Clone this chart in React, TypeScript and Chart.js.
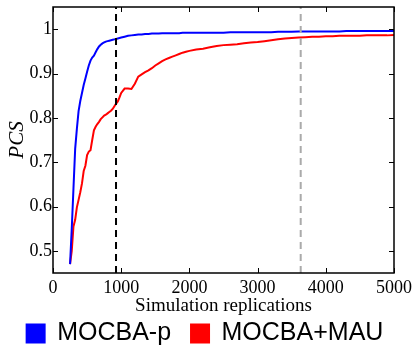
import { useEffect, useRef } from "react";
import { Chart, registerables } from "chart.js";

Chart.register(...registerables);

const SERIES_LABELS = ["MOCBA-p", "MOCBA+MAU"];
const SERIES_COLORS = ["#0000ff", "#ff0000"];

const REPS = [
  250, 275, 300, 325, 350, 375, 400, 425, 450, 475, 500, 525, 550, 575, 600, 625, 650, 675, 700, 725,
  750, 775, 800, 825, 850, 875, 900, 925, 950, 975, 1000,
  1050, 1100, 1150, 1200, 1250, 1300, 1350, 1400, 1450, 1500, 1550, 1600, 1650, 1700, 1750, 1800, 1850, 1900, 1950, 2000,
  2100, 2200, 2300, 2400, 2500, 2600, 2700, 2800, 2900, 3000, 3100, 3200, 3300, 3400, 3500, 3600, 3700, 3800, 3900, 4000,
  4100, 4200, 4300, 4400, 4500, 4600, 4700, 4800, 4900, 5000,
];

const MOCBA_P = [
  0.47, 0.55, 0.64, 0.73, 0.775, 0.815, 0.838, 0.856, 0.874, 0.889, 0.904, 0.918, 0.929, 0.936, 0.94, 0.948, 0.955, 0.961, 0.965, 0.968,
  0.97, 0.972, 0.973, 0.974, 0.975, 0.976, 0.977, 0.978, 0.979, 0.98, 0.981,
  0.983, 0.985, 0.986, 0.987, 0.988, 0.988, 0.989, 0.989, 0.99, 0.99, 0.99, 0.991, 0.991, 0.991, 0.991, 0.991, 0.991, 0.992, 0.992, 0.992,
  0.992, 0.992, 0.992, 0.992, 0.992, 0.993, 0.993, 0.993, 0.993, 0.993, 0.993, 0.993, 0.994, 0.994, 0.994, 0.995, 0.995, 0.995, 0.995, 0.995,
  0.995, 0.995, 0.996, 0.996, 0.996, 0.996, 0.996, 0.996, 0.996, 0.996,
];

const MOCBA_MAU = [
  0.47, 0.5, 0.555, 0.57, 0.598, 0.615, 0.632, 0.652, 0.68, 0.692, 0.716, 0.724, 0.727, 0.75, 0.772, 0.78, 0.786, 0.791, 0.797, 0.801,
  0.805, 0.807, 0.81, 0.813, 0.816, 0.82, 0.826, 0.832, 0.837, 0.846, 0.856,
  0.866, 0.866, 0.865, 0.877, 0.893, 0.898, 0.903, 0.907, 0.912, 0.918, 0.923, 0.928, 0.932, 0.935, 0.938, 0.941, 0.944, 0.947, 0.949, 0.951,
  0.954, 0.956, 0.959, 0.962, 0.964, 0.965, 0.966, 0.968, 0.97, 0.971, 0.973, 0.975, 0.977, 0.979, 0.98, 0.981, 0.982, 0.983, 0.983, 0.984,
  0.984, 0.985, 0.985, 0.985, 0.985, 0.986, 0.986, 0.986, 0.986, 0.987,
];

const X_TICKS = [0, 1000, 2000, 3000, 4000, 5000];
const Y_TICKS = [0.5, 0.6, 0.7, 0.8, 0.9, 1];
const X_RANGE = [0, 5000];
const Y_RANGE = [0.45, 1.05];
const MARK_BLACK = 924;
const MARK_GRAY = 3632;

const X_TITLE = "Simulation replications";
const Y_TITLE = "PCS";

const framePlugin = {
  id: "frame",
  afterDatasetsDraw(chart: any) {
    const { ctx, chartArea } = chart;
    const { left, right, top, bottom } = chartArea;
    const xs = chart.scales.x;
    const ys = chart.scales.y;
    ctx.save();
    ctx.strokeStyle = "#000";
    ctx.lineWidth = 1.5;
    ctx.strokeRect(left, top, right - left, bottom - top);
    ctx.lineWidth = 1;
    const L = 5;
    ctx.beginPath();
    X_TICKS.forEach((v) => {
      const px = Math.round(xs.getPixelForValue(v)) + 0.5;
      ctx.moveTo(px, bottom);
      ctx.lineTo(px, bottom - L);
      ctx.moveTo(px, top);
      ctx.lineTo(px, top + L);
    });
    Y_TICKS.forEach((v) => {
      const py = Math.round(ys.getPixelForValue(v)) + 0.5;
      ctx.moveTo(left, py);
      ctx.lineTo(left + L, py);
      ctx.moveTo(right, py);
      ctx.lineTo(right - L, py);
    });
    ctx.stroke();
    ctx.restore();
  },
};

export default function App() {
  const ref = useRef<HTMLCanvasElement>(null);

  useEffect(() => {
    if (!ref.current) return;
    const toPts = (vals: number[]) => REPS.map((r, i) => ({ x: r, y: vals[i] }));
    const chart = new Chart(ref.current, {
      type: "line",
      data: {
        datasets: [
          {
            label: SERIES_LABELS[0],
            data: toPts(MOCBA_P),
            borderColor: SERIES_COLORS[0],
            backgroundColor: SERIES_COLORS[0],
            borderWidth: 2,
            pointRadius: 0,
            tension: 0,
            order: 1,
          },
          {
            label: SERIES_LABELS[1],
            data: toPts(MOCBA_MAU),
            borderColor: SERIES_COLORS[1],
            backgroundColor: SERIES_COLORS[1],
            borderWidth: 2,
            pointRadius: 0,
            tension: 0,
            order: 1,
          },
          {
            label: "mark1",
            data: [
              { x: MARK_BLACK, y: Y_RANGE[0] },
              { x: MARK_BLACK, y: Y_RANGE[1] },
            ],
            borderColor: "#000",
            borderWidth: 2,
            borderDash: [7, 5],
            pointRadius: 0,
            order: 0,
          },
          {
            label: "mark2",
            data: [
              { x: MARK_GRAY, y: Y_RANGE[0] },
              { x: MARK_GRAY, y: Y_RANGE[1] },
            ],
            borderColor: "#aaaaaa",
            borderWidth: 2,
            borderDash: [7, 5],
            pointRadius: 0,
            order: 0,
          },
        ],
      },
      options: {
        animation: false,
        responsive: false,
        layout: { padding: { top: 7, left: 0, right: 4, bottom: -8 } },
        plugins: {
          tooltip: { enabled: false },
          legend: {
            position: "bottom",
            labels: {
              filter: (item: any) => item.datasetIndex < 2,
              boxWidth: 18,
              boxHeight: 18,
              padding: 20,
              color: "#000",
              font: { family: "'Liberation Sans', Arial, sans-serif", size: 25 },
            },
          },
        },
        scales: {
          x: {
            type: "linear",
            min: X_RANGE[0],
            max: X_RANGE[1],
            afterBuildTicks: (s: any) => {
              s.ticks = X_TICKS.map((v) => ({ value: v }));
            },
            afterFit: (s: any) => {
              s.paddingRight = 20;
              s.paddingLeft = 0;
              s.height = 28;
            },
            grid: { display: false, drawTicks: false },
            border: { display: false },
            ticks: {
              color: "#000",
              padding: 4,
              maxRotation: 0,
              font: { family: "'Liberation Serif', 'Times New Roman', serif", size: 18 },
              callback: (v: any) => String(v),
            },
            title: {
              display: true,
              text: X_TITLE,
              color: "#000",
              padding: { top: 0, bottom: -16 },
              font: { family: "'Liberation Serif', 'Times New Roman', serif", size: 19 },
            },
          },
          y: {
            type: "linear",
            min: Y_RANGE[0],
            max: Y_RANGE[1],
            afterBuildTicks: (s: any) => {
              s.ticks = Y_TICKS.map((v) => ({ value: v }));
            },
            afterFit: (s: any) => {
              s.width = 53;
              s.paddingTop = 0;
              s.paddingBottom = 0;
            },
            grid: { display: false, drawTicks: false },
            border: { display: false },
            ticks: {
              color: "#000",
              padding: 1,
              font: { family: "'Liberation Serif', 'Times New Roman', serif", size: 18 },
              callback: (v: any) => String(v),
            },
            title: {
              display: true,
              text: Y_TITLE,
              color: "#000",
              padding: { top: 5, bottom: 0 },
              font: { family: "'Liberation Serif', 'Times New Roman', serif", size: 21, style: "italic" },
            },
          },
        },
      },
      plugins: [framePlugin],
    });
    return () => chart.destroy();
  }, []);

  return (
    <div style={{ position: "fixed", left: 0, top: 0, width: 414, height: 348, background: "#fff" }}>
      <canvas ref={ref} width={414} height={348} style={{ display: "block" }} />
    </div>
  );
}
